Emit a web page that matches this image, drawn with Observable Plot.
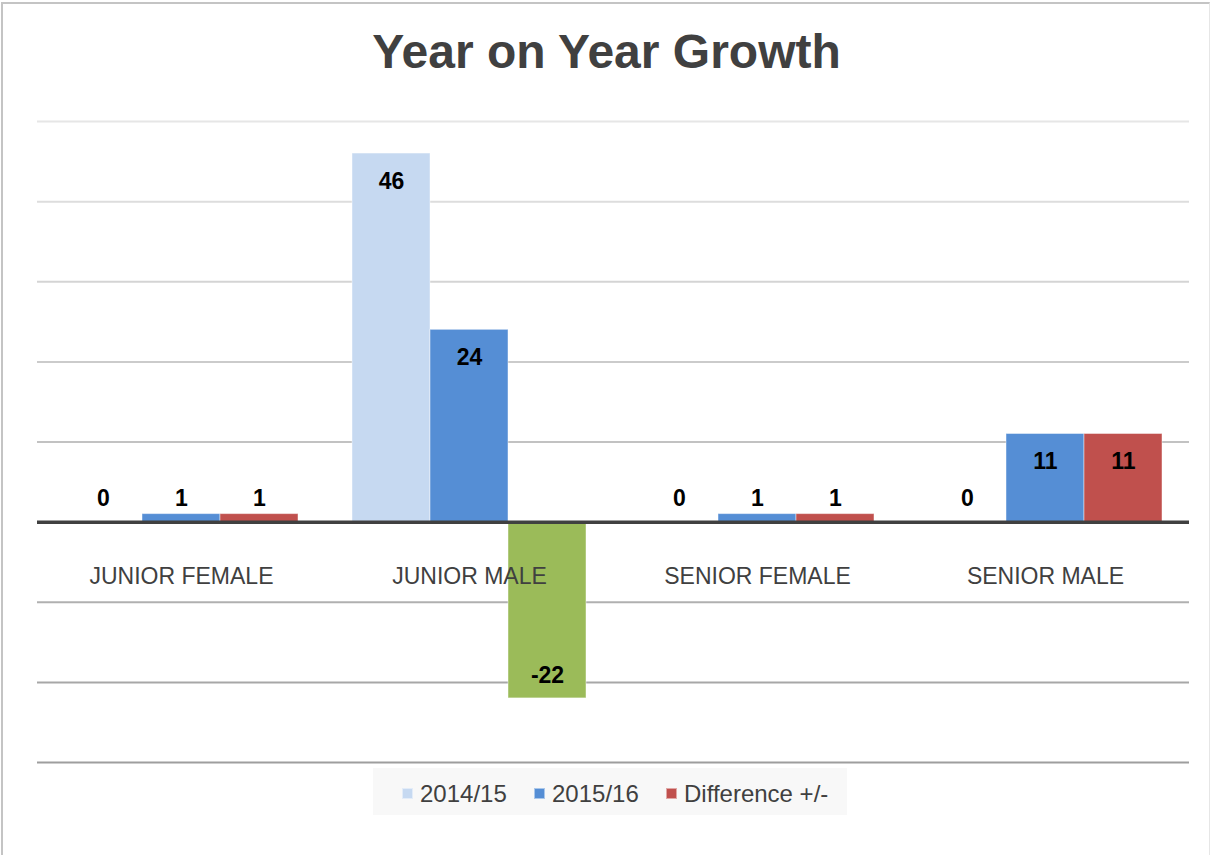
<!DOCTYPE html>
<html>
<head>
<meta charset="utf-8">
<script src="https://cdn.jsdelivr.net/npm/d3@7"></script>
<script src="https://cdn.jsdelivr.net/npm/@observablehq/plot@0.6"></script>
<style>
  html, body { margin: 0; padding: 0; background: #fff; overflow: hidden; }
  #wrap { position: relative; width: 1213px; height: 855px; font-family: "Liberation Sans", Arial, sans-serif; }
  #frame { position: absolute; left: 1px; top: 2px; width: 1209px; height: 900px;
           border-left: 2px solid #c4c4c4; border-top: 2px solid #c4c4c4; border-right: 1px solid #e6e6e6; box-sizing: border-box; }
  #title { position: absolute; left: 0; top: 22px; width: 1213px; text-align: center;
           font-size: 48px; font-weight: bold; color: #404040; line-height: 60px; }
  #chart { position: absolute; left: 0; top: 0; }
  #legend { position: absolute; left: 373px; top: 768px; width: 474px; height: 47px; background: #f8f8f8; }
  .item { position: absolute; top: 2px; height: 47px; line-height: 47px; font-size: 24px; color: #404040; white-space: nowrap; }
  .sw { position: absolute; top: 20px; width: 11px; height: 11px; box-sizing: border-box; }
</style>
</head>
<body>
<div id="wrap">
  <div id="frame"></div>
  <div id="chart"></div>
  <div id="title">Year on Year Growth</div>
  <div id="legend"></div>
</div>
<script>
// ---- data ----
const categories = ["JUNIOR FEMALE", "JUNIOR MALE", "SENIOR FEMALE", "SENIOR MALE"];
const series = ["2014/15", "2015/16", "Difference +/-"];
const values2014 = [0, 46, 0, 0];
const values2015 = [1, 24, 1, 11];
const valuesDiff = [1, -22, 1, 11];
const yTicks = [-30, -20, -10, 10, 20, 30, 40, 50];

const seriesColors = {"2014/15": "#c6d9f1", "2015/16": "#558ed5", "Difference +/-": "#c0504d"};
const negativeColor = "#9bbb59";

const rows = [];
categories.forEach((c, i) => {
  rows.push({cat: c, series: series[0], value: values2014[i]});
  rows.push({cat: c, series: series[1], value: values2015[i]});
  rows.push({cat: c, series: series[2], value: valuesDiff[i]});
});

const fillOf = d => d.value < 0 ? negativeColor : seriesColors[d.series];
const gridColor = d3.interpolateRgb("#e6e6e6", "#9e9e9e");
const font = "'Liberation Sans', Arial, sans-serif";

const chart = Plot.plot({
  width: 1213,
  height: 855,
  marginLeft: 36,
  marginRight: 23,
  marginTop: 121,
  marginBottom: 93,
  style: {fontFamily: font, background: "transparent"},
  fx: {domain: categories, padding: 0, axis: null},
  x: {domain: series, paddingInner: 0, paddingOuter: 0.34, axis: null},
  y: {domain: [-30, 50], axis: null},
  marks: [
    Plot.ruleY(yTicks, {stroke: d => gridColor((50 - d) / 80), strokeWidth: 2}),
    Plot.barY(rows, {
      fx: "cat", x: "series", y: "value",
      fill: fillOf, stroke: "white", strokeOpacity: 0.45, strokeWidth: 1
    }),
    Plot.ruleY([0], {stroke: "#404040", strokeWidth: 3.5}),
    Plot.text(categories, {fx: d => d, y: 0, text: d => d, dy: 54,
      fontSize: 23, fill: "#404040"}),
    // small values: above zero line
    Plot.text(rows.filter(d => Math.abs(d.value) < 5), {
      fx: "cat", x: "series", y: 0, text: d => String(d.value), dy: -24,
      fontSize: 23, fontWeight: "bold", fill: "black"}),
    // large positive values: inside end
    Plot.text(rows.filter(d => d.value >= 5), {
      fx: "cat", x: "series", y: "value", text: d => String(d.value), dy: 28,
      fontSize: 23, fontWeight: "bold", fill: "black"}),
    // large negative values: inside end
    Plot.text(rows.filter(d => d.value <= -5), {
      fx: "cat", x: "series", y: "value", text: d => String(d.value), dy: -23,
      fontSize: 23, fontWeight: "bold", fill: "black"})
  ]
});
document.getElementById("chart").appendChild(chart);

// legend
const legend = document.getElementById("legend");
const legendPos = [{sw: 29, tx: 47}, {sw: 161, tx: 179}, {sw: 293, tx: 311}];
series.forEach((s, i) => {
  const sw = document.createElement("div");
  sw.className = "sw";
  sw.style.left = legendPos[i].sw + "px";
  sw.style.background = seriesColors[s];
  sw.style.border = "1px solid rgba(255,255,255,0.5)";
  legend.appendChild(sw);
  const t = document.createElement("div");
  t.className = "item";
  t.style.left = legendPos[i].tx + "px";
  t.textContent = s;
  legend.appendChild(t);
});
</script>
</body>
</html>
